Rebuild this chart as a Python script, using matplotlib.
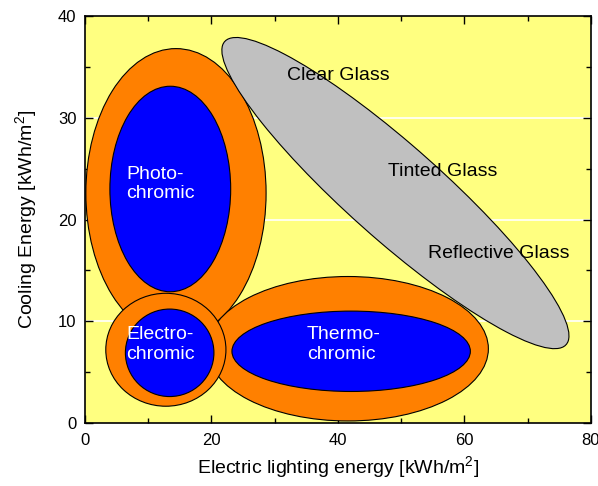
import matplotlib.pyplot as plt
from matplotlib.patches import Ellipse
from matplotlib.ticker import MultipleLocator

plt.rcParams['font.family'] = ['Liberation Sans', 'DejaVu Sans']
plt.rcParams['mathtext.fontset'] = 'custom'
plt.rcParams['mathtext.rm'] = 'Liberation Sans'
plt.rcParams['font.size'] = 14

# ellipse regions: (center x, center y, width, height, angle) in data units
photo_outer = (14.4, 22.6, 28.5, 28.4, 0)
photo_inner = (13.5, 23.0, 19.1, 20.2, 0)
thermo_outer = (41.6, 7.3, 44.4, 14.2, 0)
thermo_inner = (42.1, 7.05, 37.7, 7.9, 0)
electro_outer = (12.8, 7.2, 19.0, 11.1, 0)
electro_inner = (13.4, 6.9, 14.0, 8.6, 0)
glass = (49.1, 22.6, 61.9, 10.8, -28)

glass_labels = ["Clear Glass", "Tinted Glass", "Reflective Glass"]
glass_label_x = [31.9, 47.9, 54.2]
glass_label_y = [34.2, 24.7, 16.7]

chromic_labels = ["Photo-\nchromic", "Electro-\nchromic", "Thermo-\nchromic"]
chromic_label_x = [6.5, 6.5, 35.1]
chromic_label_y = [23.5, 7.7, 7.7]

fig = plt.figure(figsize=(5.98, 4.86), dpi=100)
ax = fig.add_axes([0.142, 0.1296, 0.846, 0.8374])
ax.set_facecolor('#FFFF80')

for y in [10, 20, 30]:
    ax.axhline(y, color='white', lw=1.2, zorder=0)

order = [
    (photo_outer, '#FF8000'), (photo_inner, '#0000FF'),
    (thermo_outer, '#FF8000'), (thermo_inner, '#0000FF'),
    (electro_outer, '#FF8000'), (electro_inner, '#0000FF'),
    (glass, '#C0C0C0'),
]
for (cx, cy, w, h, ang), col in order:
    ax.add_patch(Ellipse((cx, cy), w, h, angle=ang, facecolor=col,
                         edgecolor='black', lw=0.8, zorder=2))

for t, x, y in zip(glass_labels, glass_label_x, glass_label_y):
    ax.text(x, y, t, ha='left', va='center', color='black', zorder=5)
for t, x, y in zip(chromic_labels, chromic_label_x, chromic_label_y):
    ax.text(x, y, t, ha='left', va='center', color='white', zorder=5,
            linespacing=1.2)

ax.set_xlim(0, 80)
ax.set_ylim(0, 40)
ax.xaxis.set_major_locator(MultipleLocator(20))
ax.xaxis.set_minor_locator(MultipleLocator(10))
ax.yaxis.set_major_locator(MultipleLocator(10))
ax.yaxis.set_minor_locator(MultipleLocator(5))
ax.tick_params(which='both', direction='in', top=True, right=True, width=1,
               labelsize=12, zorder=6)
ax.tick_params(which='major', length=6)
ax.tick_params(which='minor', length=3.5)
ax.tick_params(axis='x', pad=7)
ax.tick_params(axis='y', pad=6)
for s in ax.spines.values():
    s.set_linewidth(1.2)
    s.set_zorder(6)

ax.set_xlabel('Electric lighting energy [kWh/m$^2$]', labelpad=5)
ax.set_ylabel('Cooling Energy [kWh/m$^2$]', labelpad=13)

fig.savefig('out.png', dpi=100)
